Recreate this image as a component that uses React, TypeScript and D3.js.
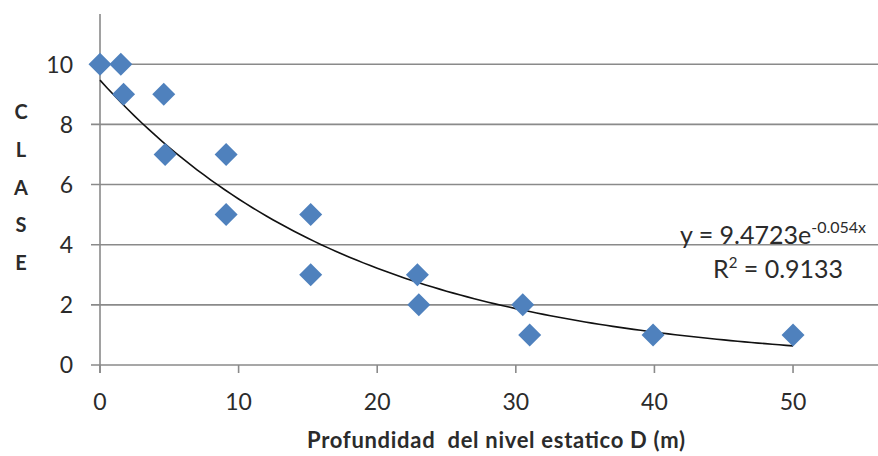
import React from "react";
import * as d3 from "d3";

// Depth to static water level (m) and class of each sample
const depth = [0, 1.5, 1.7, 4.6, 4.7, 9.1, 9.1, 15.2, 15.2, 22.9, 23.0, 30.5, 31.0, 39.9, 50.0];
const clase = [10, 10, 9, 9, 7, 7, 5, 5, 3, 3, 2, 2, 1, 1, 1];

// Exponential trend line y = a * e^(b x)
const trendA = 9.4723;
const trendB = -0.054;
const trendR2 = "0.9133";

const xTicks = [0, 10, 20, 30, 40, 50];
const yTicks = [0, 2, 4, 6, 8, 10];
const yLabelLetters = ["C", "L", "A", "S", "E"];
const xTitle = "Profundidad\u00a0\u00a0del nivel estatico D (m)";

const W = 878;
const H = 456;
const left = 100;
const bottom = 365;
const FONT = "Lato, 'Open Sans', sans-serif";
const GRID = "#8a8a8a";
const TEXT = "#2b2b2b";
const BLUE = "#4F81BD";
const R = 11.5; // half-diagonal of the diamond markers

export default function App() {
  const x = d3.scaleLinear().domain([0, 56.13]).range([left, W]);
  const y = d3.scaleLinear().domain([0, 11.67]).range([bottom, 14]);

  const trendXs = d3.range(0, 50.0001, 0.5);
  const line = d3
    .line<number>()
    .x((d) => x(d))
    .y((d) => y(trendA * Math.exp(trendB * d)))
    .curve(d3.curveLinear);

  const diamond = `M0,${-R}L${R},0L0,${R}L${-R},0Z`;

  return (
    <div style={{ position: "fixed", left: 0, top: 0 }}>
      <svg width={W} height={H} style={{ display: "block", background: "#fff" }}>
        {/* horizontal gridlines with left ticks */}
        {yTicks.map((t) => (
          <line
            key={"g" + t}
            x1={left - 9}
            x2={W}
            y1={y(t)}
            y2={y(t)}
            stroke={GRID}
            strokeWidth={1.6}
          />
        ))}
        {/* vertical axis */}
        <line x1={left} x2={left} y1={y(11.67)} y2={bottom + 8} stroke={GRID} strokeWidth={1.6} />
        {/* bottom ticks */}
        {xTicks.map((t) => (
          <line key={"xt" + t} x1={x(t)} x2={x(t)} y1={bottom} y2={bottom + 8} stroke={GRID} strokeWidth={1.6} />
        ))}
        {/* tick labels */}
        {yTicks.map((t) => (
          <text
            key={"yl" + t}
            x={73}
            y={y(t)}
            dy="0.36em"
            textAnchor="end"
            fontFamily={FONT}
            fontSize={23}
            fill={TEXT}
          >
            {t}
          </text>
        ))}
        {xTicks.map((t) => (
          <text
            key={"xl" + t}
            x={x(t)}
            y={410}
            textAnchor="middle"
            fontFamily={FONT}
            fontSize={23}
            fill={TEXT}
          >
            {t}
          </text>
        ))}
        {/* trend line */}
        <path d={line(trendXs) as string} fill="none" stroke="#111" strokeWidth={1.6} />
        {/* data points */}
        {depth.map((d, i) => (
          <path key={"p" + i} d={diamond} transform={`translate(${x(d)},${y(clase[i])})`} fill={BLUE} />
        ))}
        {/* trend equation */}
        <text x={680} y={244} fontFamily={FONT} fontSize={25} fill={TEXT}>
          y = 9.4723e
          <tspan dy={-11} fontSize={16}>
            {"-0.054x"}
          </tspan>
        </text>
        <text x={713} y={278} fontFamily={FONT} fontSize={25} fill={TEXT}>
          R<tspan dy={-10} fontSize={15}>2</tspan>
          <tspan dy={10}>{" = " + trendR2}</tspan>
        </text>
        {/* axis titles */}
        {yLabelLetters.map((c, i) => (
          <text
            key={"yt" + i}
            x={21}
            y={112 + i * 37.7}
            dy="0.36em"
            textAnchor="middle"
            fontFamily={FONT}
            fontWeight="bold"
            fontSize={20}
            fill={TEXT}
          >
            {c}
          </text>
        ))}
        <text
          x={307}
          y={448}
          fontFamily={FONT}
          fontWeight="bold"
          fontSize={22}
          textLength={378}
          lengthAdjust="spacing"
          fill={TEXT}
        >
          {xTitle}
        </text>
      </svg>
    </div>
  );
}
